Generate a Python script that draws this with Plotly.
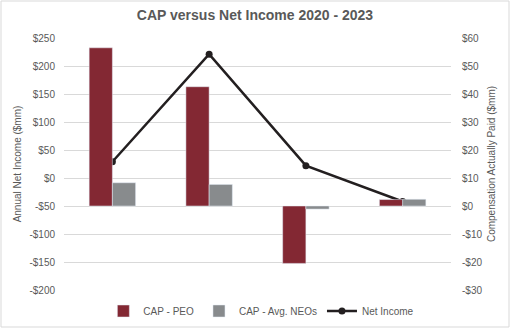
import plotly.graph_objects as go

years = ["2020", "2021", "2022", "2023"]
cap_peo = [56.5, 42.6, -20.5, 2.3]
cap_neo = [8.3, 7.7, -1.1, 2.4]
net_income = [29, 221, 22, -42]

left_ticks = [250, 200, 150, 100, 50, 0, -50, -100, -150, -200]
right_ticks = [60, 50, 40, 30, 20, 10, 0, -10, -20, -30]

def money(v):
    return ("-$" if v < 0 else "$") + str(abs(v))

font_col = "#595959"
fig = go.Figure()
fig.add_trace(go.Bar(x=years, y=cap_peo, name="CAP - PEO", marker_color="#832833",
                     yaxis="y2"))
fig.add_trace(go.Bar(x=years, y=cap_neo, name="CAP - Avg. NEOs", marker_color="#888b8d",
                     yaxis="y2"))
fig.add_trace(go.Scatter(x=years, y=net_income, name="Net Income", mode="lines+markers",
                         line=dict(color="#231f20", width=2.5),
                         marker=dict(size=7, color="#231f20"), yaxis="y"))

fig.update_layout(
    width=510, height=328,
    margin=dict(l=64, r=59, t=38, b=38, autoexpand=False),
    paper_bgcolor="white", plot_bgcolor="white",
    font=dict(family="Liberation Sans, Arial, sans-serif", size=10, color=font_col),
    title=dict(text="<b>CAP versus Net Income 2020 - 2023</b>", x=0.5, xanchor="center",
               y=0.955, yanchor="middle", font=dict(size=14, color=font_col)),
    barmode="group", bargap=0.52, bargroupgap=0,
    showlegend=True,
    legend=dict(orientation="h", x=0.51, xanchor="center", yref="container",
                y=(328 - 311) / 328, yanchor="middle", itemwidth=30,
                font=dict(size=10, color=font_col), traceorder="normal"),
    xaxis=dict(showticklabels=False, showgrid=False, zeroline=False, showline=False),
    yaxis=dict(range=[-200, 250], tickvals=left_ticks, ticktext=[money(v) for v in left_ticks],
               showgrid=True, gridcolor="#d9d9d9", gridwidth=1, zeroline=False,
               title=dict(text="Annual Net Income ($mm)", font=dict(size=10, color=font_col), standoff=5),
               tickfont=dict(size=10, color=font_col), ticks="outside", ticklen=6, tickcolor="white"),
    yaxis2=dict(range=[-30, 60], tickvals=right_ticks, ticktext=[money(v) for v in right_ticks],
                overlaying="y", side="right", showgrid=False, zeroline=False,
                title=dict(text="Compensation Actually Paid ($mm)", font=dict(size=10, color=font_col), standoff=6),
                tickfont=dict(size=10, color=font_col), ticks="outside", ticklen=8, tickcolor="white"),
)

fig.add_shape(type="rect", xref="paper", yref="paper",
              x0=(1 - 64) / 387, x1=(509 - 64) / 387,
              y0=(290 - 327) / 252, y1=(290 - 1) / 252,
              line=dict(color="#d9d9d9", width=1), fillcolor="rgba(0,0,0,0)", layer="below")

fig.write_html("out.html")
